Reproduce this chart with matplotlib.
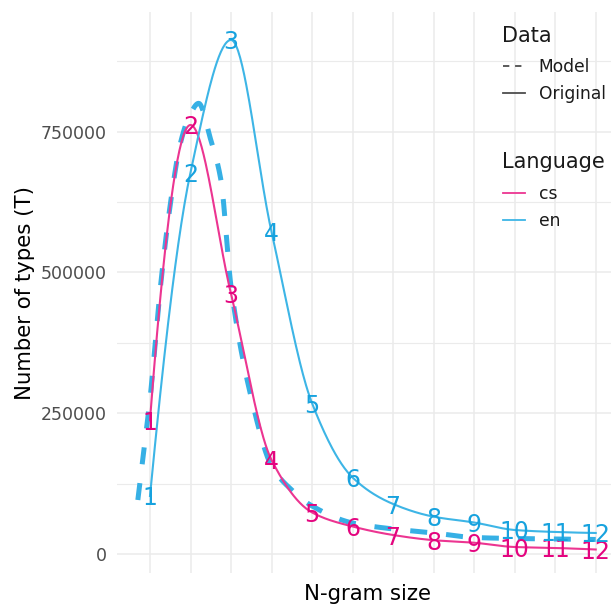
import numpy as np
import matplotlib.pyplot as plt
from matplotlib.lines import Line2D

# N-gram sizes and number of types
ngram = list(range(1, 13))
cs_types = [238000, 761600, 461800, 167300, 74200, 49300, 34200, 25000, 20500, 12900, 11200, 8500]
en_types = [103400, 677300, 912400, 571800, 267900, 136200, 89200, 66700, 56400, 43100, 39600, 37800]

model_n = [0.7, 0.85, 1, 1.25, 1.5, 1.75, 2, 2.2, 2.5, 2.75, 3, 3.5, 4, 4.5, 5,
           6, 7, 8, 9, 10, 11, 12]
model_types = [96300, 185000, 275000, 469000, 620000, 729000, 782000, 800000, 735000,
               664000, 475000, 277500, 156600, 114000, 85700, 55500, 44900, 37800,
               29800, 28000, 27100, 26300]

cs_line, cs_text = '#EC3591', '#E4047F'
en_line, en_text = '#3DB5E6', '#17A2DE'
model_col = '#36B0E5'


def smooth(x, y, n=40):
    # monotone cubic (pchip style) curve through the points, for drawing only
    x = np.asarray(x, float)
    y = np.asarray(y, float)
    h = np.diff(x)
    d = np.diff(y) / h
    m = np.zeros_like(y)
    for k in range(1, len(x) - 1):
        if d[k - 1] * d[k] > 0:
            w1 = 2 * h[k] + h[k - 1]
            w2 = h[k] + 2 * h[k - 1]
            m[k] = (w1 + w2) / (w1 / d[k - 1] + w2 / d[k])

    def end(h0, h1, d0, d1):
        s = ((2 * h0 + h1) * d0 - h0 * d1) / (h0 + h1)
        if np.sign(s) != np.sign(d0):
            return 0.0
        if np.sign(d0) != np.sign(d1) and abs(s) > 3 * abs(d0):
            return 3 * d0
        return s

    m[0] = end(h[0], h[1], d[0], d[1])
    m[-1] = end(h[-1], h[-2], d[-1], d[-2])
    xs, ys = [], []
    for k in range(len(x) - 1):
        t = np.linspace(0, 1, n, endpoint=False)
        h00 = 2 * t**3 - 3 * t**2 + 1
        h10 = t**3 - 2 * t**2 + t
        h01 = -2 * t**3 + 3 * t**2
        h11 = t**3 - t**2
        xs.append(x[k] + t * h[k])
        ys.append(h00 * y[k] + h10 * h[k] * m[k] + h01 * y[k + 1] + h11 * h[k] * m[k + 1])
    xs.append([x[-1]])
    ys.append([y[-1]])
    return np.concatenate(xs), np.concatenate(ys)


fig = plt.figure(figsize=(6.11, 6.06), dpi=100)
ax = fig.add_axes([117 / 611, 33 / 606, 501 / 611, 561 / 606])

mx, my = smooth(model_n, model_types)
ax.plot(mx, my, color=model_col, lw=3.6, linestyle=(0, (3.4, 3.8)), zorder=2)

cx, cy = smooth(ngram, cs_types)
ax.plot(cx, cy, color=cs_line, lw=1.5, zorder=3)
ex, ey = smooth(ngram, en_types)
ax.plot(ex, ey, color=en_line, lw=1.5, zorder=3)

for n, v in zip(ngram, cs_types):
    ax.text(n, v, str(n), color=cs_text, fontsize=17, ha='center', va='center_baseline', zorder=4)
for n, v in zip(ngram, en_types):
    ax.text(n, v, str(n), color=en_text, fontsize=17, ha='center', va='center_baseline', zorder=4)

ax.set_xlim(0.186, 12.55)
ax.set_ylim(-33200, 962000)
ax.set_xticks(ngram)
ax.set_yticks([0, 250000, 500000, 750000])
ax.set_yticks([125000, 375000, 625000, 875000], minor=True)
ax.tick_params(axis='x', which='both', length=0, labelbottom=False)
ax.tick_params(axis='y', which='both', length=0, pad=7.2, labelsize=12.5, labelcolor='#4d4d4d')
ax.grid(True, which='major', color='#ebebeb', lw=1.1, zorder=0)
ax.grid(True, which='minor', axis='y', color='#ebebeb', lw=0.8, zorder=0)
ax.set_axisbelow(True)
for s in ax.spines.values():
    s.set_visible(False)

ax.set_xlabel('N-gram size', fontsize=15.3, labelpad=8)
ax.set_ylabel('Number of types (T)', fontsize=15.3, labelpad=4)

# legends placed inside the panel, top right
px = lambda x, y: (x / 611, 1 - y / 606)
fig.text(*px(502, 42), 'Data', fontsize=15, ha='left', va='baseline', color='#1a1a1a')
fig.text(*px(502, 168), 'Language', fontsize=15, ha='left', va='baseline', color='#1a1a1a')

h1 = [Line2D([], [], color='#4d4d4d', lw=1.3, linestyle=(0, (3.5, 3.2))),
      Line2D([], [], color='#4d4d4d', lw=1.3)]
leg1 = ax.legend(h1, ['Model', 'Original'], loc='upper left',
                 bbox_to_anchor=px(503, 58), bbox_transform=fig.transFigure,
                 frameon=False, fontsize=12.3, labelcolor='#1a1a1a',
                 handlelength=1.3, handletextpad=0.8, labelspacing=0.54,
                 borderpad=0, borderaxespad=0)
ax.add_artist(leg1)
h2 = [Line2D([], [], color=cs_line, lw=1.3), Line2D([], [], color=en_line, lw=1.3)]
ax.legend(h2, ['cs', 'en'], loc='upper left',
          bbox_to_anchor=px(503, 185), bbox_transform=fig.transFigure,
          frameon=False, fontsize=12.3, labelcolor='#1a1a1a',
          handlelength=1.3, handletextpad=0.8, labelspacing=0.54,
          borderpad=0, borderaxespad=0)

fig.savefig('out.png', dpi=100)
